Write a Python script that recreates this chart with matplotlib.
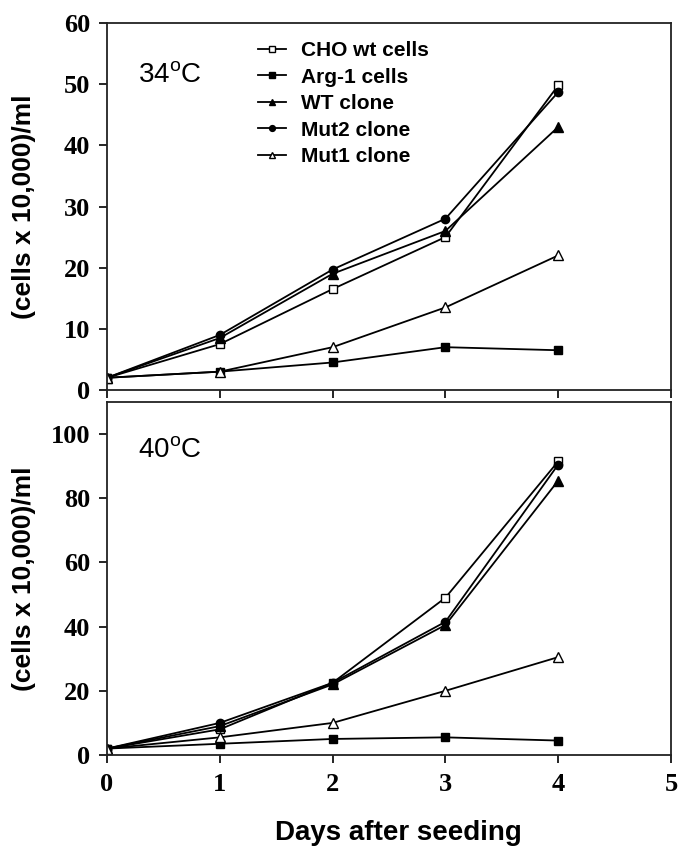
import matplotlib
matplotlib.use("Agg")
import matplotlib.pyplot as plt
from matplotlib.font_manager import FontProperties

days = [0, 1, 2, 3, 4]
series_names = ["CHO wt cells", "Arg-1 cells", "WT clone", "Mut2 clone", "Mut1 clone"]

# 34 C
cho_34 = [2, 7.5, 16.5, 25, 49.8]
arg_34 = [2, 3, 4.5, 7, 6.5]
wt_34 = [2, 8.5, 19, 26, 43]
mut2_34 = [2, 9, 19.7, 28, 48.7]
mut1_34 = [2, 3, 7, 13.5, 22]

# 40 C
cho_40 = [2, 8, 22.5, 49, 91.5]
arg_40 = [2, 3.5, 5, 5.5, 4.5]
wt_40 = [2, 9, 22, 40.5, 85.5]
mut2_40 = [2, 10, 22.5, 41.5, 90.5]
mut1_40 = [2, 5.5, 10, 20, 30.5]

x_ticks = [0, 1, 2, 3, 4, 5]
y_ticks_34 = [0, 10, 20, 30, 40, 50, 60]
y_ticks_40 = [0, 20, 40, 60, 80, 100]

styles = [
    dict(marker="s", mfc="white", ms=6),
    dict(marker="s", mfc="black", ms=6),
    dict(marker="^", mfc="black", ms=7),
    dict(marker="o", mfc="black", ms=6),
    dict(marker="^", mfc="white", ms=7),
]

plt.rcParams["mathtext.fontset"] = "custom"
plt.rcParams["mathtext.rm"] = "Liberation Sans"

fig = plt.figure(figsize=(6.88, 8.52), dpi=100)
W, H = 688, 852
ax1 = fig.add_axes([107 / W, 1 - 390 / H, (671 - 107) / W, (390 - 23) / H])
ax2 = fig.add_axes([107 / W, 1 - 755 / H, (671 - 107) / W, (755 - 402) / H])

serif_bold = dict(family="Liberation Serif", weight="bold", size=19)
sans_bold = dict(family="Liberation Sans", weight="bold")

def draw(ax, data, yticks, ylim):
    for name, vals, st in zip(series_names, data, styles):
        ax.plot(days, vals, color="black", lw=1.3, mec="black", mew=1.0,
                label=name, **st)
    ax.set_xlim(0, 5)
    ax.set_ylim(*ylim)
    ax.set_xticks(x_ticks)
    ax.set_yticks(yticks)
    ax.tick_params(direction="out", length=6, width=1.2, color="black")
    ax.tick_params(axis="y", pad=6)
    for lab in ax.get_yticklabels():
        lab.set_fontproperties(FontProperties(**serif_bold))
    for sp in ax.spines.values():
        sp.set_linewidth(1.3)
        sp.set_color("#222222")
    ax.set_ylabel("(cells x 10,000)/ml", fontsize=19, **sans_bold)
    ax.yaxis.set_label_coords(-0.126, 0.5)

draw(ax1, [cho_34, arg_34, wt_34, mut2_34, mut1_34], y_ticks_34, (0, 60))
draw(ax2, [cho_40, arg_40, wt_40, mut2_40, mut1_40], y_ticks_40, (0, 110))

ax1.set_xticklabels([])
for lab in ax2.get_xticklabels():
    lab.set_fontproperties(FontProperties(**serif_bold))
ax2.tick_params(axis="x", pad=7)
ax2.set_xlabel("Days after seeding", fontsize=20, **sans_bold)
ax2.xaxis.set_label_coords(0.516, -0.185)

leg = ax1.legend(loc="upper left", bbox_to_anchor=(0.245, 0.985), frameon=False,
                 prop=dict(family="Liberation Sans", weight="bold", size=15),
                 handlelength=1.35, handletextpad=0.75, labelspacing=0.36,
                 markerscale=0.7, borderaxespad=0.2)

ax1.text(0.055, 0.837, "34$^{\\mathrm{o}}$C", transform=ax1.transAxes,
         fontsize=20, family="Liberation Sans", va="baseline")
ax2.text(0.055, 0.841, "40$^{\\mathrm{o}}$C", transform=ax2.transAxes,
         fontsize=20, family="Liberation Sans", va="baseline")

fig.savefig("out.png", dpi=100)
